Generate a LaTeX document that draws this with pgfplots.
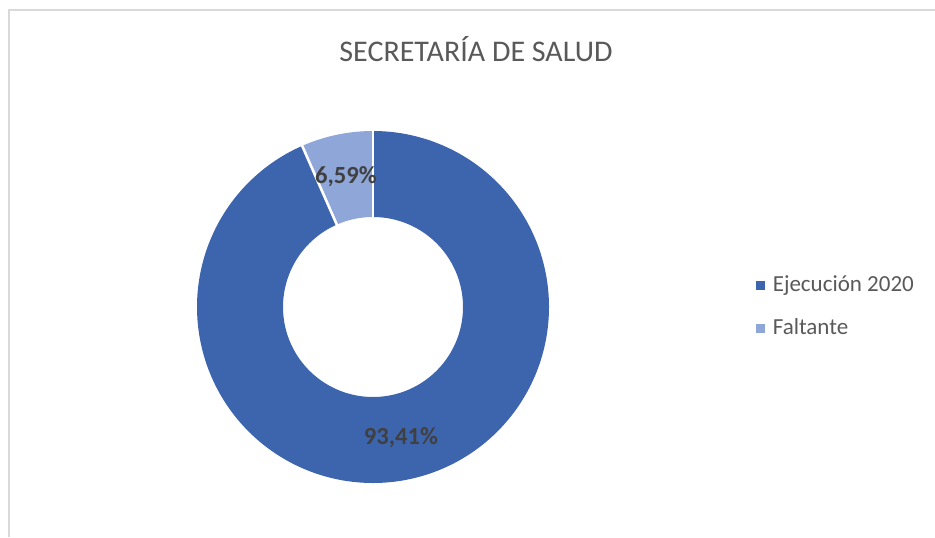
\documentclass[border=0pt]{standalone}
\usepackage{pgfplots}
\pgfplotsset{compat=1.18}
\usepackage{fontspec}
\setmainfont{Carlito}
\definecolor{serA}{RGB}{61,101,174}
\definecolor{serB}{RGB}{143,166,216}
\definecolor{txt}{RGB}{89,89,89}
\definecolor{lbl}{RGB}{64,64,64}
\definecolor{frame}{RGB}{217,217,217}
% data
\def\valA{93.41}
\def\valB{6.59}
\pgfmathsetmacro\angA{90-3.6*\valA}
\pgfmathsetmacro\angB{\angA-3.6*\valB}
\begin{document}
\begin{tikzpicture}
\begin{axis}[
  x=0.5pt, y=0.5pt,
  xmin=0, xmax=935, ymin=0, ymax=537,
  hide axis, clip=false,
  legend style={at={(axis cs:756,230.5)}, anchor=west, draw=none, fill=none,
    font=\fontsize{11.5}{13}\selectfont\color{txt}, row sep=8pt,
    legend cell align=left, inner sep=0pt},
  legend image code/.code={\fill[#1] (0pt,-2pt) rectangle (4pt,2pt); \path[draw=none,fill=none] (6pt,0pt) circle (0pt);},
]
\coordinate (ll) at (axis cs:0,0);
\coordinate (ur) at (axis cs:935,537);
% ring slices (centre 373,230; mid radius 133; width 86 units = 43pt)
\addplot[serA, line width=43pt, domain=90:\angA, samples=300, forget plot]
  ({373+133*cos(x)},{230+133*sin(x)});
\addplot[serB, line width=43pt, domain=\angA:\angB, samples=60, forget plot]
  ({373+133*cos(x)},{230+133*sin(x)});
% separators
\addplot[white, line width=1.3pt, domain=86:180, samples=2, forget plot]
  ({373+x*cos(90)},{230+x*sin(90)});
\addplot[white, line width=1.3pt, domain=86:180, samples=2, forget plot]
  ({373+x*cos(\angA)},{230+x*sin(\angA)});
\addlegendimage{serA}
\addlegendentry{Ejecución 2020}
\addlegendimage{serB}
\addlegendentry{Faltante}
\node[font=\fontsize{12.3}{14}\selectfont\bfseries, text=lbl] at (axis cs:346,360) {6,59\%};
\node[font=\fontsize{12.3}{14}\selectfont\bfseries, text=lbl] at (axis cs:401,99) {93,41\%};
\node[font=\fontsize{15}{18}\selectfont, text=txt] at (axis cs:476,488) {SECRETARÍA DE SALUD};
\draw[frame, line width=1pt] (axis cs:9,0) -- (axis cs:9,527) -- (axis cs:935,527);
\end{axis}
\pgfresetboundingbox
\path[use as bounding box] (ll) rectangle (ur);
\end{tikzpicture}
\end{document}
